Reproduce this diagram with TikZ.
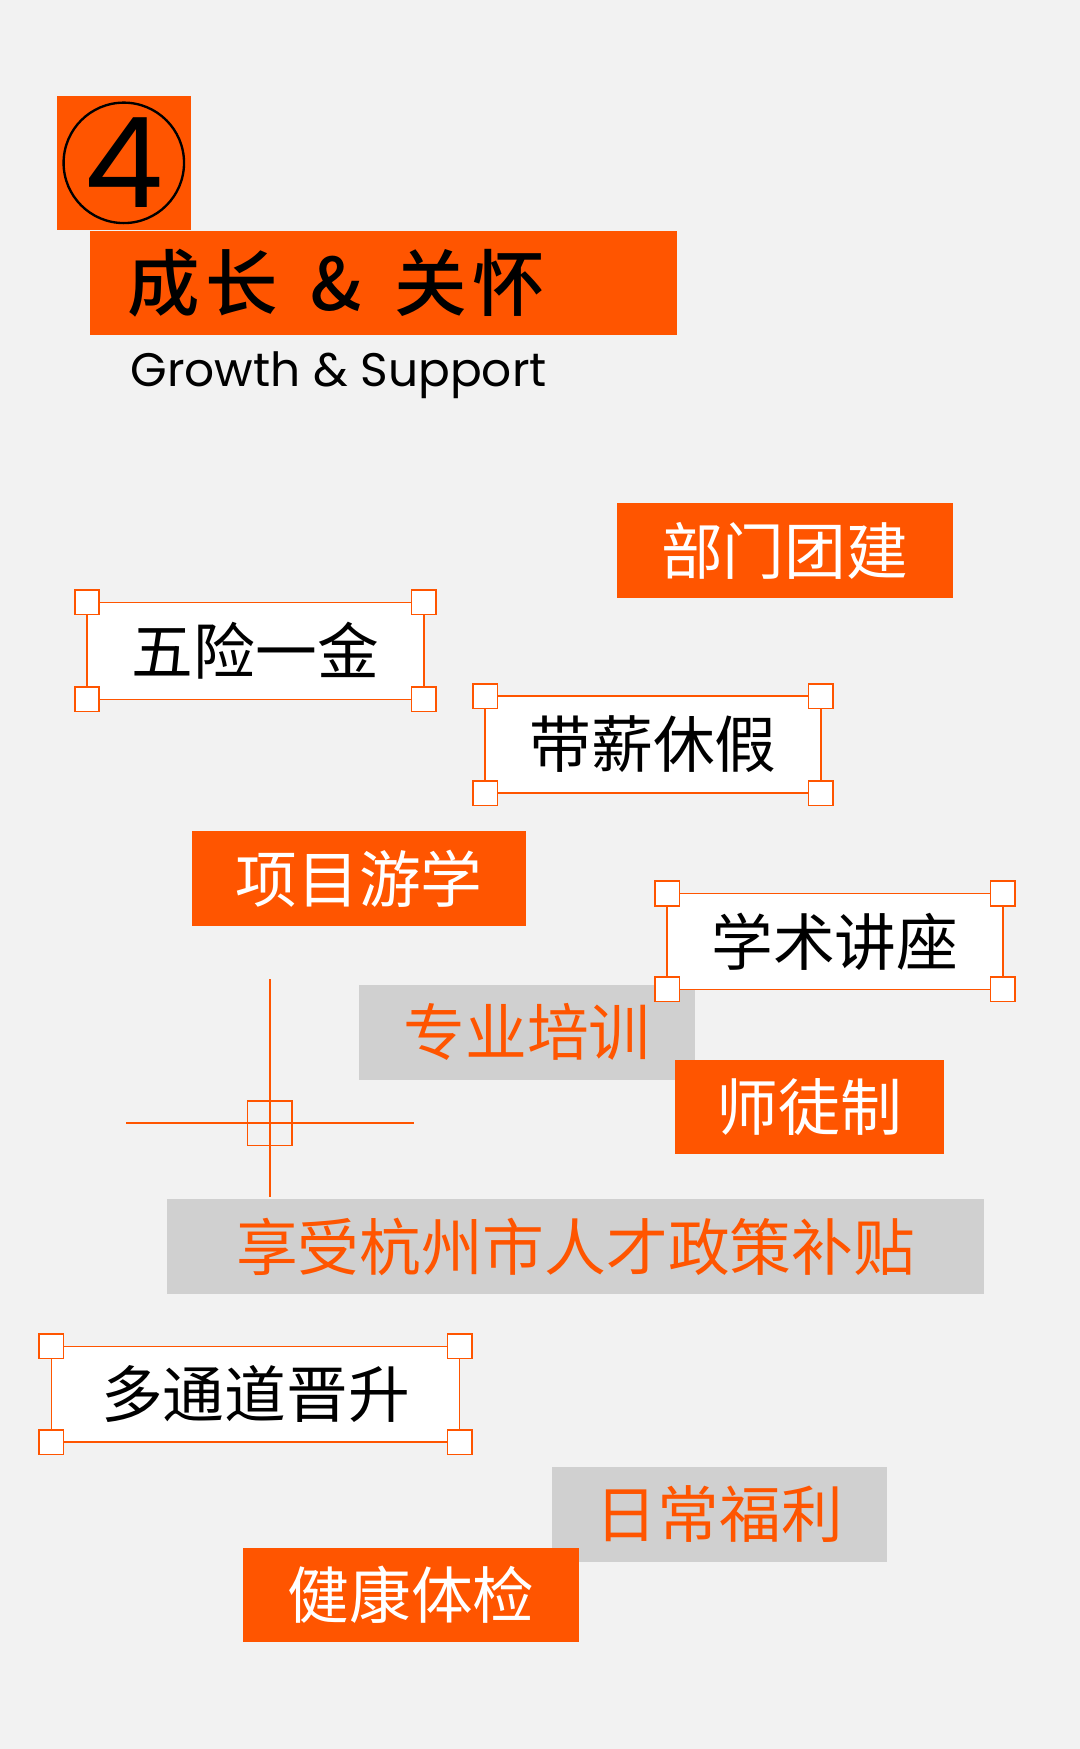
\documentclass[tikz,border=0pt]{standalone}
\usepackage{fontspec}
\newfontfamily\cjk{Noto Sans CJK SC}
\newfontfamily\cjkb{Noto Sans CJK SC Medium}
\setmainfont{Poppins}
\definecolor{org}{HTML}{FF5500}
\definecolor{bg}{HTML}{F2F2F2}
\definecolor{gr}{HTML}{D0D0D0}
\begin{document}
\begin{tikzpicture}[x=0.02cm,y=-0.02cm,
  lbl/.style={font=\cjk\fontsize{31.5}{34}\selectfont},
  hnd/.style={draw=org,fill=white,line width=0.8pt,minimum size=0.44cm,inner sep=0pt},
  ln/.style={draw=org,line width=0.8pt}]
\fill[bg] (0,0) rectangle (968,1568);
\useasboundingbox (0,0) rectangle (968,1568);
% header
\fill[org] (51,86) rectangle (171,206);
\draw[line width=1.2pt] (111,146) circle (1.08cm);
\node[font=\fontsize{64}{70}\selectfont] (four) at (111,146) {4};
\fill[org] (81,207) rectangle (607,300);
\node[anchor=west,font=\cjkb\fontsize{37}{40}\selectfont] (title) at (108,254) {成\hspace{0.08em}长\hspace{0.45em}\&\hspace{0.45em}关\hspace{0.08em}怀};
\node[anchor=west,font=\fontsize{24}{28}\selectfont] (sub) at (111,336) {Growth \& Support};
\newcommand\obox[6]{\fill[org] (#1,#2) rectangle (#3,#4);\node[lbl,text=white] (#6) at ({(#1+#3)/2},{(#2+#4)/2}) {#5};}
\newcommand\gbox[6]{\fill[gr] (#1,#2) rectangle (#3,#4);\node[lbl,text=org] (#6) at ({(#1+#3)/2},{(#2+#4)/2}) {#5};}
\newcommand\wbox[6]{\draw[ln,fill=white] (#1,#2) rectangle (#3,#4);\node[lbl] (#6) at ({(#1+#3)/2},{(#2+#4)/2}) {#5};
 \node[hnd] at (#1,#2) {};\node[hnd] at (#3,#2) {};\node[hnd] at (#1,#4) {};\node[hnd] at (#3,#4) {};}
\obox{553}{451}{854}{536}{部门团建}{a}
\wbox{78}{540}{380}{627}{五险一金}{b}
\wbox{435}{624}{736}{711}{带薪休假}{c}
\obox{172}{745}{472}{830}{项目游学}{d}
\gbox{322}{883}{623}{968}{专业培训}{e}
\wbox{598}{801}{899}{887}{学术讲座}{f}
\obox{605}{950}{846}{1035}{师徒制}{g}
\draw[ln] (242,878) -- (242,1073);
\draw[ln] (113,1007) -- (371,1007);
\draw[ln] (222,987) rectangle (262,1027);
\gbox{150}{1075}{882}{1160}{享受杭州市人才政策补贴}{h}
\wbox{46}{1207}{412}{1293}{多通道晋升}{i}
\gbox{495}{1315}{795}{1400}{日常福利}{j}
\obox{218}{1388}{519}{1472}{健康体检}{k}
\end{tikzpicture}
\end{document}
